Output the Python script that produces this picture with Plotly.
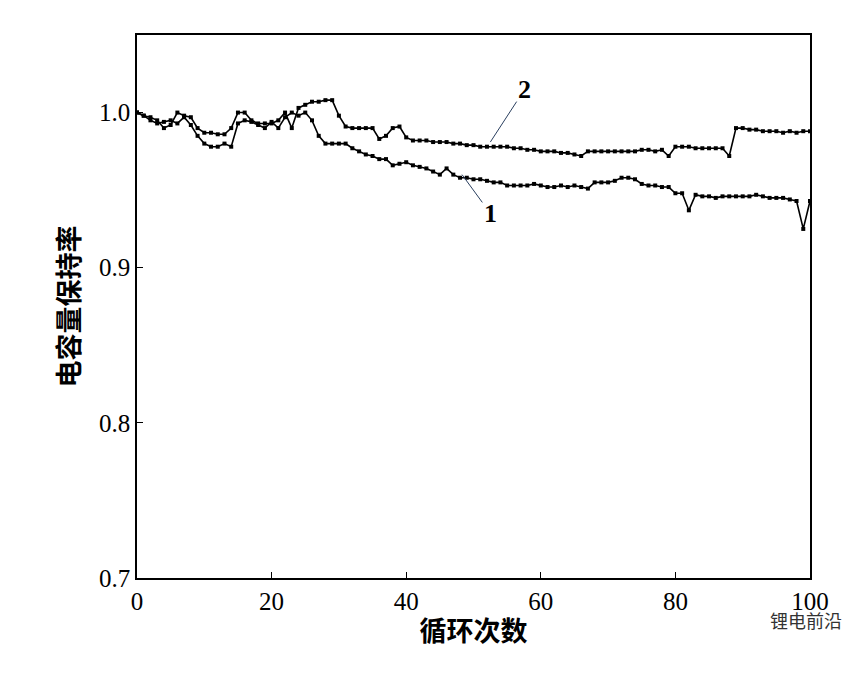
import plotly.graph_objects as go

cycles = list(range(0, 101))

# 曲线1 (下方曲线)
retention_1 = [
    1.000, 0.998, 0.995, 0.993, 0.994, 0.995, 0.993, 0.997, 0.992, 0.985,
    0.980, 0.978, 0.978, 0.980, 0.978, 0.993, 0.995, 0.994, 0.992, 0.990,
    0.994, 0.990, 0.997, 1.000, 0.998, 1.000, 0.995, 0.985, 0.980, 0.980,
    0.980, 0.980, 0.977, 0.975, 0.973, 0.972, 0.970, 0.970, 0.966, 0.967,
    0.968, 0.966, 0.965, 0.964, 0.962, 0.960, 0.964, 0.960, 0.958, 0.958,
    0.957, 0.957, 0.956, 0.955, 0.955, 0.953, 0.953, 0.953, 0.953, 0.954,
    0.953, 0.952, 0.952, 0.953, 0.952, 0.953, 0.952, 0.951, 0.955, 0.955,
    0.955, 0.956, 0.958, 0.958, 0.957, 0.954, 0.953, 0.953, 0.952, 0.952,
    0.948, 0.948, 0.937, 0.947, 0.946, 0.946, 0.945, 0.946, 0.946, 0.946,
    0.946, 0.946, 0.947, 0.946, 0.945, 0.945, 0.945, 0.944, 0.943, 0.925,
    0.943,
]

# 曲线2 (上方曲线)
retention_2 = [
    1.000, 0.998, 0.997, 0.995, 0.990, 0.992, 1.000, 0.998, 0.997, 0.990,
    0.987, 0.987, 0.986, 0.986, 0.990, 1.000, 1.000, 0.995, 0.993, 0.993,
    0.993, 0.995, 1.000, 0.990, 1.003, 1.005, 1.007, 1.007, 1.008, 1.008,
    0.998, 0.991, 0.990, 0.990, 0.990, 0.990, 0.983, 0.985, 0.990, 0.991,
    0.984, 0.982, 0.982, 0.982, 0.981, 0.981, 0.981, 0.980, 0.980, 0.979,
    0.979, 0.978, 0.978, 0.978, 0.978, 0.978, 0.977, 0.977, 0.976, 0.976,
    0.975, 0.975, 0.975, 0.974, 0.974, 0.973, 0.972, 0.975, 0.975, 0.975,
    0.975, 0.975, 0.975, 0.975, 0.975, 0.976, 0.976, 0.975, 0.976, 0.972,
    0.978, 0.978, 0.978, 0.977, 0.977, 0.977, 0.977, 0.977, 0.972, 0.990,
    0.990, 0.989, 0.989, 0.988, 0.988, 0.988, 0.987, 0.988, 0.987, 0.988,
    0.988,
]

num_font = "Liberation Serif"
cjk_font = "Noto Sans CJK SC"

fig = go.Figure()
for y in (retention_1, retention_2):
    fig.add_trace(go.Scatter(
        x=cycles, y=y, mode="lines+markers",
        line=dict(color="black", width=1.6),
        marker=dict(symbol="square", size=4, color="black"),
        showlegend=False,
    ))

fig.add_annotation(x=48.3, y=0.960, ax=52.5, ay=0.935, axref="x", ayref="y",
                   text="<b>1</b>", showarrow=True, arrowhead=0, arrowwidth=1,
                   font=dict(size=26, family=num_font, color="black"))
fig.add_annotation(x=52.5, y=0.981, ax=57.6, ay=1.015, axref="x", ayref="y",
                   text="<b>2</b>", showarrow=True, arrowhead=0, arrowwidth=1,
                   font=dict(size=26, family=num_font, color="black"))
fig.add_annotation(x=1.05, y=-0.105, xref="paper", yref="paper", xanchor="right",
                   text="锂电前沿", showarrow=False,
                   font=dict(size=18, family=cjk_font, color="#333333"))

axis = dict(showline=True, linecolor="black", linewidth=1.5, mirror=True,
            ticks="inside", ticklen=6, tickcolor="black", showgrid=False,
            zeroline=False, tickfont=dict(size=25, family=num_font, color="black"))

fig.update_layout(
    width=868, height=674,
    margin=dict(l=129, r=66, t=27, b=104),
    plot_bgcolor="white", paper_bgcolor="white",
    xaxis=dict(axis, range=[0, 100], dtick=20,
               title=dict(text="<b>循环次数</b>", font=dict(size=27, family=cjk_font, color="black"),
                          standoff=8)),
    yaxis=dict(axis, range=[0.7, 1.05], tickvals=[0.7, 0.8, 0.9, 1.0],
               ticktext=["0.7", "0.8", "0.9", "1.0"],
               title=dict(text="<b>电容量保持率</b>", font=dict(size=27, family=cjk_font, color="black"),
                          standoff=12)),
)

fig.write_html("out.html")
